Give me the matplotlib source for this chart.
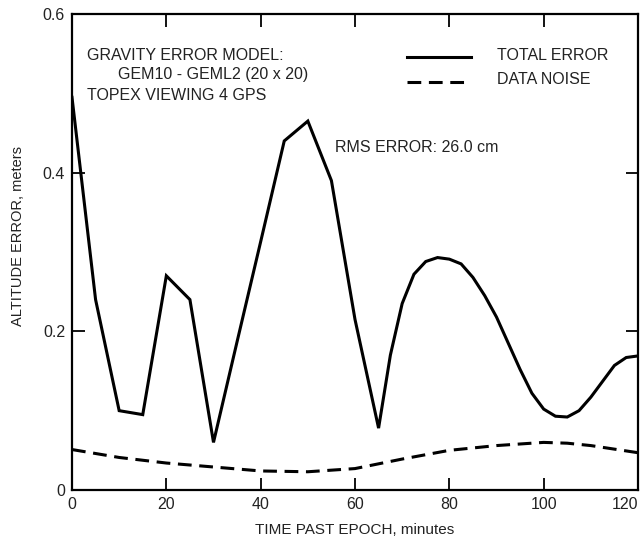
import matplotlib
matplotlib.use('Agg')
import matplotlib.pyplot as plt

plt.rcParams['font.family'] = ['Liberation Sans', 'DejaVu Sans']

# total error (minutes, meters)
t_total = [0, 5, 10, 15, 20, 25, 30, 35, 40, 45, 50, 55, 60, 65,
           67.5, 70, 72.5, 75, 77.5, 80, 82.5, 85, 87.5, 90, 92.5, 95,
           97.5, 100, 102.5, 105, 107.5, 110, 112.5, 115, 117.5, 120]
total_err = [0.495, 0.24, 0.10, 0.095, 0.27, 0.24, 0.06, 0.187, 0.313, 0.44, 0.465, 0.39, 0.215, 0.078,
             0.17, 0.235, 0.272, 0.288, 0.293, 0.291, 0.285, 0.268, 0.245, 0.218, 0.185, 0.152,
             0.122, 0.102, 0.093, 0.092, 0.100, 0.117, 0.137, 0.157, 0.167, 0.169]

# data noise
t_noise = [0, 10, 20, 30, 40, 50, 60, 70, 80, 90, 100, 105, 110, 120]
noise_err = [0.051, 0.041, 0.034, 0.029, 0.024, 0.023, 0.027, 0.039, 0.050, 0.056, 0.060, 0.059, 0.056, 0.047]

yticks = [0, 0.2, 0.4, 0.6]
ylabels = ['0', '0.2', '0.4', '0.6']
xticks = [0, 20, 40, 60, 80, 100, 120]

fig = plt.figure(figsize=(6.41, 5.41), dpi=100)
ax = fig.add_axes([72/641, 1-490/541, 566/641, 476/541])

ax.plot(t_total, total_err, color='black', lw=2.2, solid_joinstyle='miter')
ax.plot(t_noise, noise_err, color='black', lw=2.2, dashes=(4.5, 2.5))

ax.set_xlim(0, 120)
ax.set_ylim(0, 0.6)
ax.set_xticks(xticks)
ax.set_yticks(yticks)
ax.set_yticklabels(ylabels)
ax.tick_params(direction='in', length=9, width=1.3, labelsize=11.5, color='black',
               labelcolor='#222222', top=True, right=True, pad=5)
# last x label sits left of its tick so it stays on the page
ax.get_xticklabels()[-1].set_horizontalalignment('right')
for s in ax.spines.values():
    s.set_linewidth(1.6)

ax.set_xlabel('TIME PAST EPOCH, minutes', fontsize=11, labelpad=8, color='#222222')
ax.set_ylabel('ALTITUDE ERROR, meters', fontsize=10.5, color='#222222')
ax.yaxis.set_label_coords(-0.083, 0.534)

tx = dict(fontsize=11.5, color='#222222', va='center', transform=fig.transFigure)
fig.text(87/641, 1-55/541, 'GRAVITY ERROR MODEL:', **tx)
fig.text(118/641, 1-75/541, 'GEM10 - GEML2 (20 x 20)', **tx)
fig.text(87/641, 1-95/541, 'TOPEX VIEWING 4 GPS', **tx)
fig.text(335/641, 1-147/541, 'RMS ERROR: 26.0 cm', **tx)

# legend drawn by hand to sit where the original has it
fig.text(497/641, 1-55/541, 'TOTAL ERROR', **tx)
fig.text(497/641, 1-80/541, 'DATA NOISE', **tx)
ax.plot([71, 84.5], [0.546, 0.546], color='black', lw=2.2)
ax.plot([71, 84.5], [0.514, 0.514], color='black', lw=2.2, dashes=(4.5, 2.5))

fig.savefig('out.png', dpi=100)
